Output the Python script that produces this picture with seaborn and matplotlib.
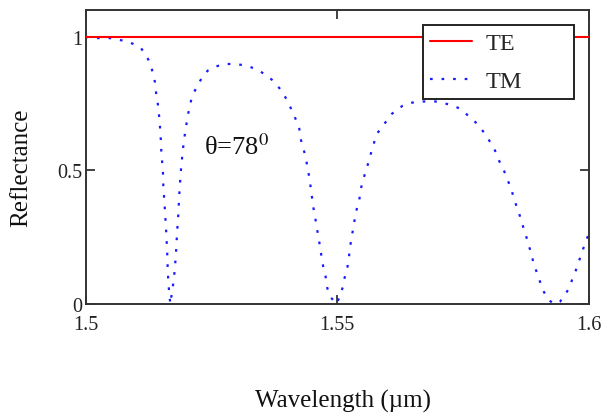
import matplotlib
matplotlib.use("Agg")
import matplotlib.pyplot as plt
import seaborn as sns
import pandas as pd

# ---- data ----
te_wavelength = [1.50, 1.60]
te_reflectance = [1.0, 1.0]

tm_wavelength = [
    1.50000, 1.50155, 1.50487, 1.50646, 1.50819, 1.50950, 1.51103, 1.51196, 1.51282, 1.51335,
    1.51381, 1.51401, 1.51435, 1.51455, 1.51475, 1.51486, 1.51500, 1.51506, 1.51526, 1.51540,
    1.51546, 1.51560, 1.51574, 1.51586, 1.51600, 1.51606, 1.51620, 1.51626, 1.51634, 1.51645,
    1.51659, 1.51679, 1.51685, 1.51693, 1.51733, 1.51759, 1.51793, 1.51818, 1.51844, 1.51864,
    1.51892, 1.51932, 1.51983, 1.52051, 1.52097, 1.52156, 1.52242, 1.52329, 1.52428, 1.52574,
    1.52772, 1.52951, 1.53136, 1.53335, 1.53468, 1.53601, 1.53732, 1.53851, 1.53945, 1.54038,
    1.54104, 1.54183, 1.54249, 1.54277, 1.54328, 1.54382, 1.54408, 1.54448, 1.54475, 1.54501,
    1.54527, 1.54567, 1.54595, 1.54634, 1.54660, 1.54700, 1.54726, 1.54779, 1.54805, 1.54873,
    1.54988, 1.55044, 1.55111, 1.55151, 1.55203, 1.55231, 1.55256, 1.55282, 1.55322, 1.55350,
    1.55390, 1.55441, 1.55469, 1.55521, 1.55574, 1.55628, 1.55680, 1.55733, 1.55787, 1.55886,
    1.55986, 1.56085, 1.56184, 1.56304, 1.56435, 1.56582, 1.56767, 1.56946, 1.57111, 1.57278,
    1.57429, 1.57542, 1.57661, 1.57774, 1.57874, 1.57959, 1.58053, 1.58138, 1.58204, 1.58271,
    1.58337, 1.58402, 1.58470, 1.58516, 1.58581, 1.58635, 1.58700, 1.58754, 1.58800, 1.58867,
    1.58899, 1.58967, 1.59033, 1.59098, 1.59178, 1.59311, 1.59430, 1.59529, 1.59629, 1.59674,
    1.59742, 1.59861, 1.59927, 1.60000,
]
tm_reflectance = [
    1.000, 0.995, 0.995, 0.989, 0.983, 0.973, 0.957, 0.933, 0.902, 0.867,
    0.829, 0.792, 0.752, 0.717, 0.680, 0.642, 0.605, 0.568, 0.524, 0.486,
    0.443, 0.405, 0.362, 0.324, 0.287, 0.250, 0.212, 0.168, 0.125, 0.087,
    0.050, 0.012, 0.000, 0.012, 0.062, 0.100, 0.175, 0.262, 0.337, 0.412,
    0.493, 0.574, 0.648, 0.723, 0.761, 0.792, 0.823, 0.852, 0.873, 0.888,
    0.898, 0.898, 0.894, 0.883, 0.871, 0.854, 0.835, 0.808, 0.782, 0.752,
    0.721, 0.689, 0.655, 0.617, 0.582, 0.545, 0.511, 0.474, 0.437, 0.399,
    0.362, 0.321, 0.284, 0.250, 0.210, 0.168, 0.137, 0.096, 0.059, 0.025,
    0.000, 0.025, 0.062, 0.100, 0.135, 0.171, 0.208, 0.246, 0.283, 0.318,
    0.355, 0.390, 0.430, 0.465, 0.502, 0.532, 0.570, 0.602, 0.636, 0.661,
    0.686, 0.711, 0.726, 0.742, 0.751, 0.757, 0.758, 0.758, 0.752, 0.744,
    0.732, 0.715, 0.695, 0.676, 0.652, 0.632, 0.602, 0.574, 0.542, 0.515,
    0.490, 0.458, 0.424, 0.393, 0.358, 0.328, 0.287, 0.256, 0.222, 0.187,
    0.153, 0.119, 0.083, 0.050, 0.019, 0.000, 0.009, 0.034, 0.066, 0.094,
    0.125, 0.191, 0.227, 0.262,
]

x_ticks = [1.5, 1.55, 1.6]
x_tick_labels = ["1.5", "1.55", "1.6"]
y_ticks = [0, 0.5, 1]
y_tick_labels = ["0", "0.5", "1"]

# ---- style ----
sns.set_theme(style="white")
plt.rcParams["font.family"] = ["Liberation Serif", "DejaVu Serif"]
plt.rcParams["mathtext.fontset"] = "stix"

fig = plt.figure(figsize=(6.04, 4.14), dpi=100)
ax = fig.add_axes([0.1416, 0.2633, 0.8331, 0.7101])

tm_df = pd.DataFrame({"wavelength": tm_wavelength, "reflectance": tm_reflectance})
te_df = pd.DataFrame({"wavelength": te_wavelength, "reflectance": te_reflectance})

sns.lineplot(data=tm_df, x="wavelength", y="reflectance", ax=ax, color="#1a1aff",
             lw=1.6, linestyle=(0, (1.2, 4.0)), estimator=None, sort=False,
             label="TM", zorder=2)
sns.lineplot(data=te_df, x="wavelength", y="reflectance", ax=ax, color="#ff0000",
             lw=1.5, estimator=None, sort=False, label="TE", zorder=3)

ax.set_xlim(1.5, 1.6)
ax.set_ylim(0, 1.1)

ax.set_xticks(x_ticks)
ax.set_xticklabels(x_tick_labels)
ax.set_yticks(y_ticks)
ax.set_yticklabels(y_tick_labels)
ax.tick_params(axis="both", direction="in", length=6.5, width=1.2, color="#222222",
               labelsize=14.5, labelcolor="#222222")
ax.tick_params(axis="x", top=True, bottom=True, pad=8)
ax.tick_params(axis="y", left=True, right=True, pad=2.5)

for s in ax.spines.values():
    s.set_color("#333333")
    s.set_linewidth(1.4)

ax.set_xlabel("Wavelength (µm)", fontsize=18, color="#111111")
ax.set_ylabel("Reflectance", fontsize=18, color="#111111")
ax.xaxis.set_label_coords(0.512, -0.289)
ax.yaxis.set_label_coords(-0.106, 0.466)

ax.text(1.5236, 0.562, "θ=78$^{0}$", fontsize=19, color="#111111", ha="left", va="baseline")

handles, labels = ax.get_legend_handles_labels()
order = [labels.index("TE"), labels.index("TM")]
leg = ax.legend([handles[i] for i in order], [labels[i] for i in order],
                loc="upper left", bbox_to_anchor=(0.671, 0.701, 0.300, 0.248),
                mode="expand", borderaxespad=0, fontsize=17.5, frameon=True,
                fancybox=False, framealpha=1, edgecolor="#222222",
                handlelength=1.7, handletextpad=0.55, labelspacing=0.65,
                borderpad=0.3)
leg.get_frame().set_linewidth(1.4)

fig.savefig("out.png", dpi=100)
